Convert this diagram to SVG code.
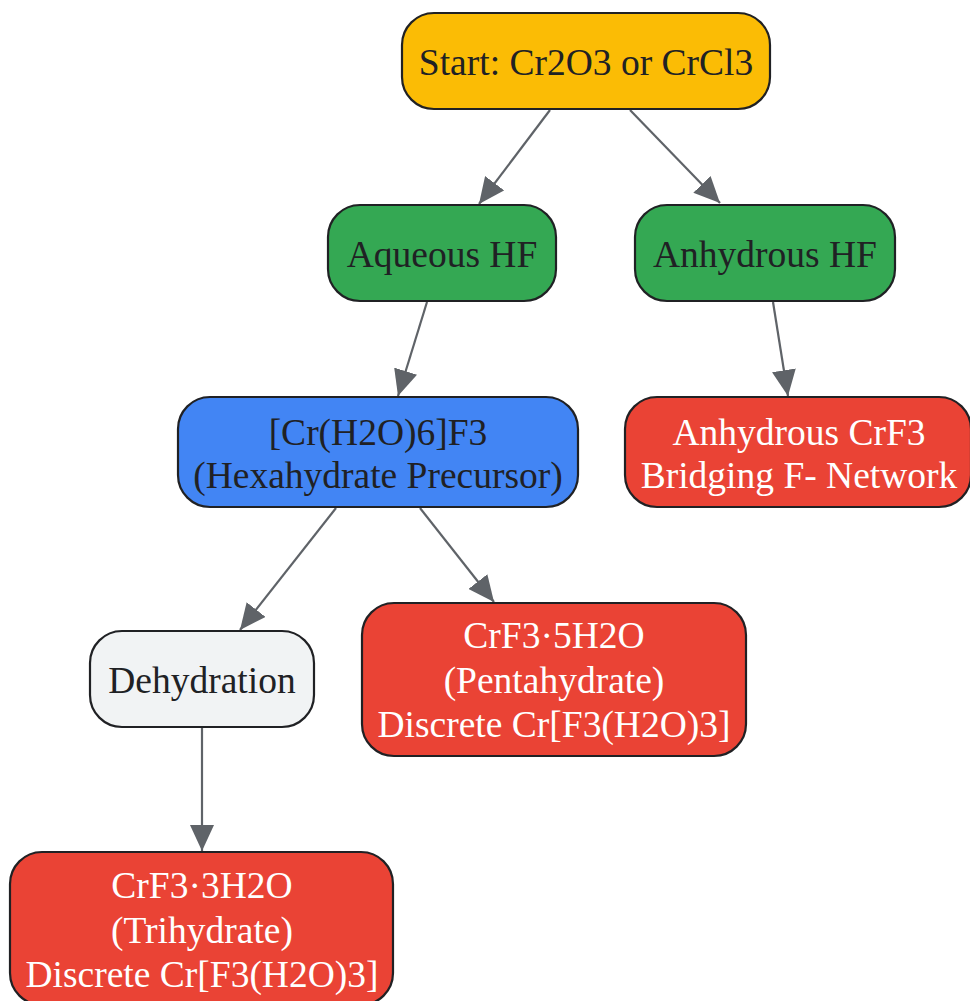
<svg xmlns="http://www.w3.org/2000/svg" width="970" height="1001" viewBox="0 0 970 1001">
<style>
.n{stroke:#202124;stroke-width:2.2}
.t{font-family:"Liberation Serif","Times New Roman",serif;font-size:37.5px;text-anchor:middle;fill:#202124}
.w{fill:#ffffff}
.e{fill:none;stroke:#5f6368;stroke-width:2.2}
</style>
<defs>
<marker id="a" markerUnits="userSpaceOnUse" markerWidth="27" markerHeight="24" refX="26" refY="12" orient="auto">
<path d="M0,0 L26,12 L0,24 Z" fill="#5f6368"/>
</marker>
</defs>
<rect width="970" height="1001" fill="#ffffff"/>
<g id="edges">
<path class="e" d="M550,110 L479,204" marker-end="url(#a)"/>
<path class="e" d="M630,110 L720,203" marker-end="url(#a)"/>
<path class="e" d="M427,302 L398,396" marker-end="url(#a)"/>
<path class="e" d="M773,302 L788,396" marker-end="url(#a)"/>
<path class="e" d="M336,508 L240,630" marker-end="url(#a)"/>
<path class="e" d="M420,508 L494,602" marker-end="url(#a)"/>
<path class="e" d="M202,728 L202,851" marker-end="url(#a)"/>
</g>
<g id="start">
<rect class="n" x="402" y="13" width="368" height="96" rx="32" fill="#fbbc05"/>
<text class="t" x="586" y="75">Start: Cr2O3 or CrCl3</text>
</g>
<g id="aqueous">
<rect class="n" x="328" y="205" width="228" height="96" rx="32" fill="#34a853"/>
<text class="t" x="442" y="267">Aqueous HF</text>
</g>
<g id="anhydrousHF">
<rect class="n" x="635" y="205" width="260" height="96" rx="32" fill="#34a853"/>
<text class="t" x="765" y="267">Anhydrous HF</text>
</g>
<g id="hexahydrate">
<rect class="n" x="178" y="397" width="400" height="110" rx="32" fill="#4285f4"/>
<text class="t" x="378" y="445">[Cr(H2O)6]F3</text>
<text class="t" x="378" y="488">(Hexahydrate Precursor)</text>
</g>
<g id="anhydrousCrF3">
<rect class="n" x="625" y="397" width="346" height="110" rx="32" fill="#ea4335"/>
<text class="t w" x="799" y="445">Anhydrous CrF3</text>
<text class="t w" x="799" y="488">Bridging F- Network</text>
</g>
<g id="dehydration">
<rect class="n" x="90" y="631" width="224" height="96" rx="32" fill="#f1f3f4"/>
<text class="t" x="202" y="693">Dehydration</text>
</g>
<g id="pentahydrate">
<rect class="n" x="362" y="603" width="384" height="153" rx="32" fill="#ea4335"/>
<text class="t w" x="554" y="648">CrF3·5H2O</text>
<text class="t w" x="554" y="693">(Pentahydrate)</text>
<text class="t w" x="554" y="737">Discrete Cr[F3(H2O)3]</text>
</g>
<g id="trihydrate">
<rect class="n" x="10" y="852" width="383" height="153" rx="32" fill="#ea4335"/>
<text class="t w" x="202" y="898">CrF3·3H2O</text>
<text class="t w" x="202" y="943">(Trihydrate)</text>
<text class="t w" x="202" y="987">Discrete Cr[F3(H2O)3]</text>
</g>
</svg>
